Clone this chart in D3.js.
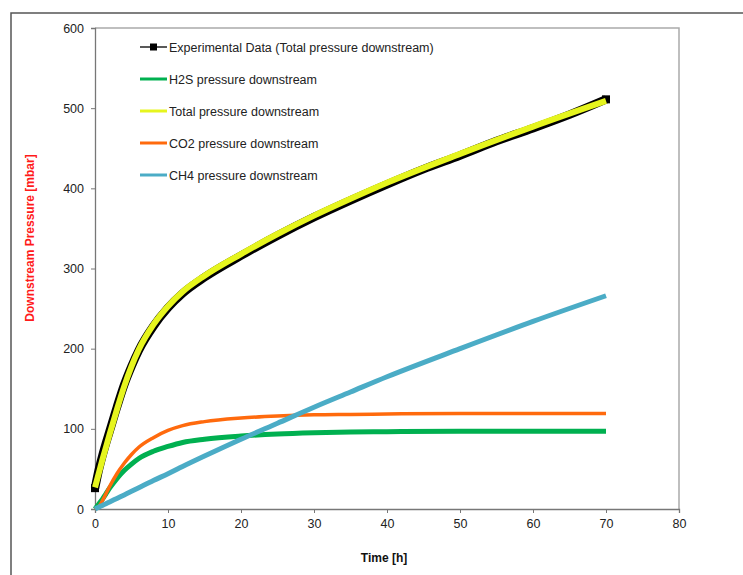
<!DOCTYPE html>
<html>
<head>
<meta charset="utf-8">
<script src="https://cdn.jsdelivr.net/npm/d3@7"></script>
<style>
  body { margin: 0; background: #fff; }
  svg { display: block; font-family: "Liberation Sans", Arial, sans-serif; }
</style>
</head>
<body>
<svg id="chart" width="743" height="575"></svg>
<script>
// Model curves
const modelTimes = [0, 0.5, 1, 1.5, 2, 3, 4, 5, 6, 8, 10, 12, 15, 20, 25, 30, 35, 40, 50, 60, 70];
const h2s   = [0, 6, 12, 19, 26, 38, 48, 56, 63, 72, 78, 83, 87, 91, 93.5, 95, 96, 96.5, 97, 97, 97];
const co2   = [0, 3, 10, 19, 28, 44, 57, 68, 77, 89, 98, 104, 109, 113.5, 116, 117.5, 118, 118.5, 119, 119, 119];
const ch4   = [0, 2.2, 4.4, 6.6, 8.8, 13.2, 17.6, 22, 26.5, 35.5, 44, 53, 66, 87, 107, 127, 146, 165, 200, 234, 266];
const total = [27, 44, 61, 77, 93, 124, 153, 178, 199, 230, 253, 271, 291, 318, 343, 366, 387, 407, 443, 477, 509];

// Experimental data (total pressure downstream)
const expTimes = [0, 0.5, 1, 1.5, 2, 3, 4, 5, 6, 8, 10, 12, 15, 20, 25, 30, 35, 40, 45, 50, 55, 60, 65, 70];
const expData  = [26, 48, 66, 82, 97, 127, 155, 178, 198, 228, 251, 269, 289, 316, 341, 364, 385, 405, 424, 441, 459, 475, 492, 511];

const xTicks = [0, 10, 20, 30, 40, 50, 60, 70, 80];
const yTicks = [0, 100, 200, 300, 400, 500, 600];

const seriesNames = ["Experimental Data (Total pressure downstream)", "H2S pressure downstream",
  "Total pressure downstream", "CO2 pressure downstream", "CH4 pressure downstream"];

const svg = d3.select("#chart");

// outer frame
svg.append("path")
  .attr("d", "M11,575 V13 H743")
  .attr("fill", "none").attr("stroke", "#555").attr("stroke-width", 1.5);

const plotLeft = 95, plotRight = 679, plotTop = 28, plotBottom = 509;

const x = d3.scaleLinear().domain([0, 80]).range([plotLeft, plotRight]);
const y = d3.scaleLinear().domain([0, 600]).range([plotBottom, plotTop]);

// plot area border (top and right)
svg.append("path")
  .attr("d", `M${plotLeft},${plotTop} H${plotRight} V${plotBottom}`)
  .attr("fill", "none").attr("stroke", "#aaa").attr("stroke-width", 1.5);

const xAxis = svg.append("g")
  .attr("transform", `translate(0,${plotBottom})`)
  .call(d3.axisBottom(x).tickValues(xTicks).tickSize(4).tickPadding(6));
const yAxis = svg.append("g")
  .attr("transform", `translate(${plotLeft},0)`)
  .call(d3.axisLeft(y).tickValues(yTicks).tickSize(4).tickPadding(7));

[xAxis, yAxis].forEach(a => {
  a.select(".domain").attr("stroke", "#777").attr("stroke-width", 1.3);
  a.selectAll(".tick line").attr("stroke", "#777");
  a.selectAll("text").attr("font-size", 12.5).attr("fill", "#222")
    .attr("font-family", "Liberation Sans, Arial, sans-serif");
});

// axis titles
svg.append("text")
  .attr("x", 384).attr("y", 562)
  .attr("text-anchor", "middle")
  .attr("font-size", 12).attr("font-weight", "bold").attr("fill", "#111")
  .text("Time [h]");

svg.append("text")
  .attr("transform", "translate(34,238) rotate(-90)")
  .attr("text-anchor", "middle")
  .attr("font-size", 12).attr("font-weight", "bold").attr("fill", "#ff1a1a")
  .text("Downstream Pressure [mbar]");

const line = d3.line()
  .x(d => x(d[0]))
  .y(d => y(d[1]))
  .curve(d3.curveMonotoneX);

const zip = (ts, vs) => ts.map((t, i) => [t, vs[i]]);

// experimental data drawn first (dense markers -> thick black trace)
const expPoints = zip(expTimes, expData);
svg.append("path")
  .attr("d", line(expPoints))
  .attr("fill", "none").attr("stroke", "#000").attr("stroke-width", 8.5)
  .attr("stroke-linejoin", "round");
svg.selectAll(".exp-end")
  .data([expPoints[0], expPoints[expPoints.length - 1]])
  .join("rect")
  .attr("x", d => x(d[0]) - 4).attr("y", d => y(d[1]) - 4)
  .attr("width", 8).attr("height", 8).attr("fill", "#000");

const model = [
  { vals: h2s, color: "#00b050", width: 5 },
  { vals: total, color: "#e6f51e", width: 6 },
  { vals: co2, color: "#ff6a0d", width: 3.5 },
  { vals: ch4, color: "#4bacc6", width: 5 }
];

model.forEach(s => {
  svg.append("path")
    .attr("d", line(zip(modelTimes, s.vals)))
    .attr("fill", "none").attr("stroke", s.color).attr("stroke-width", s.width);
});

// legend
const legendColors = ["#000", "#00b050", "#e6f51e", "#ff6a0d", "#4bacc6"];
const legend = svg.append("g");
seriesNames.forEach((name, i) => {
  const ly = 47 + i * 32;
  legend.append("line")
    .attr("x1", 140).attr("x2", 167).attr("y1", ly).attr("y2", ly)
    .attr("stroke", i === 0 ? "#222" : legendColors[i]).attr("stroke-width", i === 0 ? 1.5 : 3);
  if (i === 0) {
    legend.append("rect")
      .attr("x", 150).attr("y", ly - 3.5).attr("width", 7).attr("height", 7)
      .attr("fill", "#000");
  }
  legend.append("text")
    .attr("x", 169).attr("y", ly + 4.5)
    .attr("font-size", 12.5).attr("fill", "#222")
    .text(name);
});
</script>
</body>
</html>
